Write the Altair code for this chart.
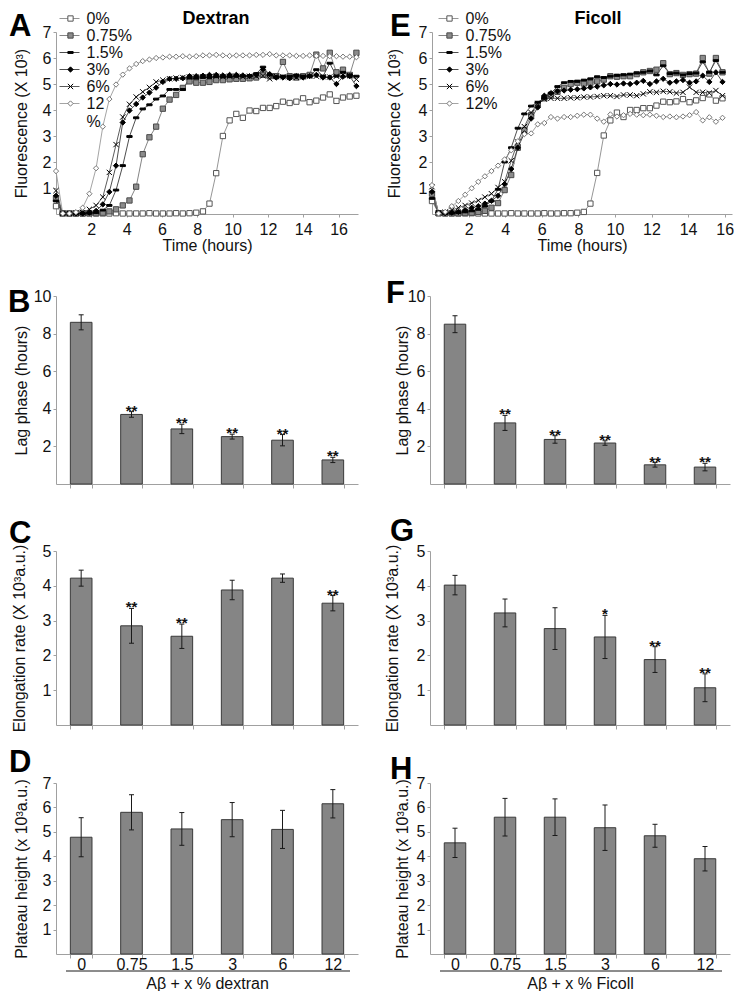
import altair as alt
import pandas as pd

FONT = "Liberation Sans"

series = ["0%", "0.75%", "1.5%", "3%", "6%", "12%"]
conc = ["0", "0.75", "1.5", "3", "6", "12"]

# ---------------- kinetic curves (fluorescence, x 10^3) ----------------
time_dextran = [0, 0.38, 0.76, 1.13, 1.51, 1.89, 2.27, 2.65, 3.02, 3.4,
                3.78, 4.16, 4.54, 4.91, 5.29, 5.67, 6.05, 6.43, 6.8, 7.18,
                7.56, 7.94, 8.32, 8.69, 9.07, 9.45, 9.83, 10.21, 10.58, 10.96,
                11.34, 11.72, 12.1, 12.47, 12.85, 13.23, 13.61, 13.99, 14.36, 14.74,
                15.12, 15.5, 15.88, 16.25, 16.63, 17.01]

dextran_0 = [0.3, 0.03, 0.02, 0.02, 0.02, 0.02, 0.02, 0.02, 0.02, 0.03,
             0.02, 0.02, 0.02, 0.02, 0.03, 0.02, 0.02, 0.02, 0.03, 0.02,
             0.03, 0.05, 0.1, 0.4, 1.57, 3.0, 3.6, 3.85, 3.7, 3.98,
             3.96, 4.08, 4.08, 4.15, 4.32, 4.27, 4.32, 4.45, 4.3, 4.36,
             4.48, 4.6, 4.35, 4.48, 4.52, 4.55]
dextran_075 = [0.6, 0.02, 0.02, 0.02, 0.02, 0.03, 0.03, 0.05, 0.1, 0.18,
               0.33, 0.52, 1.05, 2.3, 2.95, 3.36, 4.05, 4.4, 4.58, 4.85,
               5.1, 5.05, 5.05, 5.08, 5.15, 5.15, 5.18, 5.2, 5.2, 5.22,
               5.25, 5.35, 5.3, 5.3, 5.85, 5.3, 5.25, 5.3, 5.35, 6.13,
               5.6, 6.2, 5.45, 5.55, 5.35, 6.2]
dextran_15 = [0.5, 0.02, 0.02, 0.02, 0.02, 0.03, 0.05, 0.15, 0.33, 0.92,
              1.86, 2.98, 3.7, 4.04, 4.2, 4.42, 4.54, 4.79, 4.79, 4.79,
              5.23, 5.22, 5.25, 5.25, 5.28, 5.27, 5.28, 5.3, 5.3, 5.32,
              5.4, 5.65, 5.35, 5.28, 5.3, 5.3, 5.35, 5.3, 5.3, 5.55,
              5.3, 5.8, 5.3, 5.45, 5.35, 5.3]
dextran_3 = [0.7, 0.02, 0.02, 0.02, 0.02, 0.05, 0.12, 0.37, 0.85, 1.86,
             3.52, 3.98, 4.23, 4.48, 4.67, 4.86, 5.08, 5.2, 5.2, 5.22,
             5.3, 5.3, 5.32, 5.35, 5.35, 5.33, 5.35, 5.35, 5.33, 5.3,
             5.35, 5.55, 5.38, 5.25, 5.25, 5.22, 5.3, 5.25, 5.3, 5.35,
             5.25, 5.25, 5.0, 5.28, 5.3, 4.92]
dextran_6 = [0.9, 0.02, 0.02, 0.03, 0.05, 0.18, 0.33, 0.65, 1.6, 2.67,
             3.73, 4.22, 4.5, 4.7, 4.87, 5.08, 5.15, 5.2, 5.23, 5.25,
             5.27, 5.27, 5.28, 5.28, 5.3, 5.28, 5.3, 5.3, 5.28, 5.3,
             5.3, 5.32, 5.2, 5.3, 5.28, 5.25, 5.25, 5.28, 5.3, 5.3,
             5.28, 5.27, 5.3, 5.35, 5.32, 5.18]
dextran_12 = [1.65, 0.02, 0.02, 0.07, 0.24, 0.78, 1.76, 3.36, 4.42, 4.98,
              5.36, 5.6, 5.77, 5.88, 5.94, 6.0, 6.02, 6.05, 6.05, 6.07,
              6.05, 6.07, 6.1, 6.1, 6.12, 6.1, 6.08, 6.1, 6.1, 6.1,
              6.12, 6.12, 6.15, 6.1, 6.1, 6.1, 6.08, 6.08, 6.1, 6.08,
              6.08, 6.07, 6.07, 6.05, 6.05, 6.03]

time_ficoll = [0, 0.36, 0.72, 1.08, 1.44, 1.81, 2.17, 2.53, 2.89, 3.25,
               3.61, 3.97, 4.33, 4.69, 5.05, 5.42, 5.78, 6.14, 6.5, 6.86,
               7.22, 7.58, 7.94, 8.3, 8.66, 9.03, 9.39, 9.75, 10.11, 10.47,
               10.83, 11.19, 11.55, 11.91, 12.27, 12.64, 13.0, 13.36, 13.72, 14.08,
               14.44, 14.8, 15.16, 15.52, 15.88]

ficoll_0 = [0.5, 0.03, 0.02, 0.02, 0.02, 0.02, 0.03, 0.02, 0.02, 0.02,
            0.02, 0.02, 0.03, 0.02, 0.02, 0.02, 0.02, 0.03, 0.02, 0.02,
            0.03, 0.03, 0.05, 0.08, 0.4, 1.58, 3.02, 3.6, 3.9, 3.73,
            4.0, 4.0, 4.07, 4.07, 4.17, 4.32, 4.3, 4.33, 4.42, 4.3,
            4.37, 4.46, 4.6, 4.36, 4.45]
ficoll_075 = [0.78, 0.03, 0.03, 0.03, 0.03, 0.05, 0.05, 0.08, 0.12, 0.24,
              0.42, 0.92, 1.5, 2.55, 3.23, 3.8, 4.2, 4.45, 4.55, 4.7,
              4.85, 5.0, 5.05, 5.02, 5.05, 5.1, 5.17, 5.3, 5.28, 5.3,
              5.3, 5.38, 5.45, 5.5, 5.55, 5.8, 5.38, 5.42, 5.35, 5.38,
              5.4, 6.0, 5.4, 6.0, 5.45]
ficoll_15 = [0.6, 0.05, 0.03, 0.03, 0.05, 0.08, 0.12, 0.18, 0.3, 0.5,
             0.95, 2.0, 2.55, 3.3, 3.85, 4.15, 4.3, 4.45, 4.65, 4.9,
             5.05, 5.1, 5.1, 5.15, 5.2, 5.28, 5.25, 5.3, 5.33, 5.35,
             5.38, 5.42, 5.45, 5.5, 5.35, 5.7, 5.4, 5.42, 5.35, 5.4,
             5.42, 5.85, 5.45, 5.9, 5.45]
ficoll_3 = [0.85, 0.05, 0.03, 0.05, 0.08, 0.15, 0.24, 0.3, 0.4, 0.51,
            0.7, 1.15, 1.73, 2.55, 3.1, 3.67, 4.1, 4.55, 4.65, 4.72,
            4.75, 4.78, 4.8, 4.83, 4.87, 4.9, 4.95, 5.0, 4.98, 5.02,
            5.0, 5.05, 5.12, 5.0, 5.1, 5.2, 5.05, 5.1, 5.15, 5.05,
            5.1, 5.32, 5.08, 5.45, 5.08]
ficoll_6 = [1.05, 0.05, 0.07, 0.15, 0.24, 0.33, 0.42, 0.52, 0.65, 0.78,
            1.02, 1.24, 2.05, 2.77, 3.36, 3.9, 4.25, 4.42, 4.45, 4.45,
            4.45, 4.47, 4.47, 4.5, 4.5, 4.52, 4.55, 4.55, 4.52, 4.58,
            4.58, 4.55, 4.62, 4.7, 4.68, 4.72, 4.7, 4.65, 4.68, 4.88,
            4.68, 4.68, 4.65, 4.75, 4.55]
ficoll_12 = [1.11, 0.02, 0.08, 0.3, 0.5, 0.74, 0.99, 1.24, 1.45, 1.65,
             1.86, 2.1, 2.45, 2.8, 3.07, 3.1, 3.45, 3.5, 3.73, 3.67,
             3.73, 3.73, 3.78, 3.82, 3.82, 3.67, 3.55, 3.83, 3.75, 3.8,
             3.85, 3.82, 3.8, 3.82, 3.78, 3.73, 3.75, 3.72, 3.75, 3.8,
             3.92, 3.6, 3.72, 3.55, 3.7]

time_ticks = [2, 4, 6, 8, 10, 12, 14, 16]

# ---------------- bar panels ----------------
lag_dextran = [8.6, 3.7, 2.93, 2.52, 2.33, 1.28]
lag_dextran_err = [0.4, 0.15, 0.25, 0.13, 0.3, 0.14]
lag_dextran_sig = ["", "**", "**", "**", "**", "**"]
lag_ficoll = [8.5, 3.25, 2.37, 2.18, 1.02, 0.9]
lag_ficoll_err = [0.45, 0.4, 0.2, 0.12, 0.12, 0.2]
lag_ficoll_sig = ["", "**", "**", "**", "**", "**"]

elong_dextran = [4.22, 2.85, 2.55, 3.88, 4.22, 3.5]
elong_dextran_err = [0.23, 0.5, 0.35, 0.28, 0.12, 0.22]
elong_dextran_sig = ["", "**", "**", "", "", "**"]
elong_ficoll = [4.02, 3.22, 2.77, 2.53, 1.88, 1.07]
elong_ficoll_err = [0.28, 0.4, 0.6, 0.62, 0.37, 0.4]
elong_ficoll_sig = ["", "", "", "*", "**", "**"]

plateau_dextran = [4.78, 5.8, 5.12, 5.5, 5.1, 6.15]
plateau_dextran_err = [0.8, 0.72, 0.67, 0.7, 0.78, 0.58]
plateau_dextran_sig = ["", "", "", "", "", ""]
plateau_ficoll = [4.55, 5.6, 5.6, 5.17, 4.84, 3.9]
plateau_ficoll_err = [0.6, 0.77, 0.75, 0.93, 0.47, 0.5]
plateau_ficoll_sig = ["", "", "", "", "", ""]

# ---------------- styles ----------------
line_colors = ["#8a8a8a", "#777777", "#3a3a3a", "#3a3a3a", "#4a4a4a", "#9a9a9a"]
point_shapes = ["square", "square", "M-1,-0.35H1V0.35H-1Z", "diamond",
                "M-1,-1L1,1M-1,1L1,-1", "diamond"]
point_fills = ["white", "#8c8c8c", "black", "black", "transparent", "white"]
point_strokes = ["#555555", "#4a4a4a", "black", "black", "black", "#777777"]

LW, RW = 302, 300
H1, H2, H3, H4 = 182, 188, 174, 171


def text_layer(txt, x, y, size, weight="bold", align="left"):
    return alt.Chart(pd.DataFrame({"label": [txt]})).mark_text(
        align=align, baseline="alphabetic", fontSize=size, fontWeight=weight,
        font=FONT, color="black"
    ).encode(x=alt.value(x), y=alt.value(y), text="label:N")


def frame_layer(w, h, top, bottom):
    # invisible spacer fixing the panel's layout extent
    return alt.Chart(pd.DataFrame({"a": [0]})).mark_rule(opacity=0).encode(
        x=alt.value(-48), x2=alt.value(w + 2),
        y=alt.value(-top), y2=alt.value(h + bottom))


def curve_panel(times, values, xmax, width, letter, letter_x, head, head_x,
                legend_x, two_line_12, title_x):
    rows = []
    for s, vals in zip(series, values):
        for t, v in zip(times, vals):
            rows.append({"t": t, "v": v, "line_key": s + " ", "Series": s})
    df = pd.DataFrame(rows)
    line_keys = [s + " " for s in series]

    x = alt.X("t:Q", scale=alt.Scale(domain=[0, xmax], nice=False, zero=True),
              axis=alt.Axis(values=time_ticks, title="Time (hours)", tickSize=3,
                            labelPadding=4, titlePadding=0))
    y = alt.Y("v:Q", scale=alt.Scale(domain=[0, 7], nice=False),
              axis=alt.Axis(values=[1, 2, 3, 4, 5, 6, 7], title="Fluorescence (X 10³)",
                            titleX=title_x, titleBaseline="alphabetic",
                            tickSize=3, labelPadding=2))
    label_expr = ("datum.label == '12%' ? ['12', '%'] : datum.label"
                  if two_line_12 else "datum.label")

    # line segments drawn behind the markers in the legend (labels left empty)
    line_legend = alt.Legend(title=None, orient="none", legendX=legend_x - 4.5,
                             legendY=-21.5, symbolType="M-2.5,0H2.5", symbolSize=64,
                             symbolStrokeWidth=0.9, labelFontSize=16,
                             labelFont=FONT, rowPadding=1, padding=0,
                             labelExpr="''")
    pt_legend = alt.Legend(title=None, orient="none", legendX=legend_x - 3.5,
                           legendY=-21.5, symbolSize=28, symbolStrokeWidth=1,
                           labelFontSize=16, labelFont=FONT, labelColor="#111",
                           labelFontWeight="normal",
                           rowPadding=1, padding=0, labelOffset=8,
                           labelExpr=label_expr)

    base = alt.Chart(df)
    lines = base.mark_line(strokeWidth=0.9).encode(
        x=x, y=y,
        color=alt.Color("line_key:N",
                        scale=alt.Scale(domain=line_keys, range=line_colors),
                        legend=line_legend))
    points = base.mark_point(size=28, opacity=1, strokeWidth=1).encode(
        x=x, y=y,
        shape=alt.Shape("Series:N",
                        scale=alt.Scale(domain=series, range=point_shapes),
                        legend=pt_legend),
        fill=alt.Fill("Series:N",
                      scale=alt.Scale(domain=series, range=point_fills),
                      legend=pt_legend),
        stroke=alt.Stroke("Series:N",
                          scale=alt.Scale(domain=series, range=point_strokes),
                          legend=pt_legend))
    return alt.layer(
        lines, points,
        text_layer(letter, letter_x, 4, 31),
        text_layer(head, head_x, -8, 18, align="center"),
        frame_layer(width, H1, 24, 42),
    ).properties(width=width, height=H1)


def bar_panel(vals, errs, sig, ytitle, ymax, yvals, width, height, letter,
              letter_x, letter_y, title_x, top_ext, bottom_ext, xtitle=None):
    df = pd.DataFrame({
        "conc": conc, "v": vals,
        "lo": [v - e for v, e in zip(vals, errs)],
        "hi": [v + e for v, e in zip(vals, errs)],
        "sig": sig,
    })
    show = xtitle is not None
    xaxis = alt.Axis(title=xtitle if show else None, labels=show, labelAngle=0,
                     tickBand="extent", tickSize=4, labelPadding=-2,
                     titlePadding=3)
    x = alt.X("conc:N", sort=conc,
              scale=alt.Scale(paddingInner=0.57, paddingOuter=0.285), axis=xaxis)
    yaxis = alt.Axis(values=yvals, title=ytitle, titleX=title_x,
                     titleBaseline="alphabetic", tickSize=3, labelPadding=2)
    yscale = alt.Scale(domain=[0, ymax], nice=False)
    base = alt.Chart(df)
    bars = base.mark_bar(color="#858585", stroke="#3a3a3a", strokeWidth=1).encode(
        x=x, y=alt.Y("v:Q", scale=yscale, axis=yaxis))
    rule = base.mark_rule(color="#1a1a1a", strokeWidth=1).encode(
        x=x, y=alt.Y("lo:Q", scale=yscale, axis=yaxis), y2="hi:Q")
    cap_hi = base.mark_tick(color="#1a1a1a", thickness=1, size=5, opacity=1).encode(
        x=x, y=alt.Y("hi:Q", scale=yscale, axis=yaxis))
    cap_lo = base.mark_tick(color="#1a1a1a", thickness=1, size=5, opacity=1).encode(
        x=x, y=alt.Y("lo:Q", scale=yscale, axis=yaxis))
    stars = base.mark_text(baseline="alphabetic", dy=4, fontSize=15,
                           fontWeight="bold", font=FONT, color="#111").encode(
        x=x, y=alt.Y("hi:Q", scale=yscale, axis=yaxis), text="sig:N")
    layers = [bars, rule, cap_hi, cap_lo, stars,
              text_layer(letter, letter_x, letter_y, 31),
              frame_layer(width, height, top_ext, bottom_ext)]
    if show:
        underline = alt.Chart(pd.DataFrame({"a": [0]})).mark_rule(
            color="#1a1a1a", strokeWidth=1
        ).encode(x=alt.value(10), x2=alt.value(width - 8), y=alt.value(height + 17))
        layers.append(underline)
    return alt.layer(*layers).properties(width=width, height=height)


A = curve_panel(time_dextran,
                [dextran_0, dextran_075, dextran_15, dextran_3, dextran_6, dextran_12],
                17.1, LW, "A", -47, "Dextran", 160, 10, True, -30)
E = curve_panel(time_ficoll,
                [ficoll_0, ficoll_075, ficoll_15, ficoll_3, ficoll_6, ficoll_12],
                16.4, RW, "E", -42, "Ficoll", 166, 13, False, -33)

B = bar_panel(lag_dextran, lag_dextran_err, lag_dextran_sig, "Lag phase (hours)",
              10, [2, 4, 6, 8, 10], LW, H2, "B", -48, 16, -30, 40, 32)
F = bar_panel(lag_ficoll, lag_ficoll_err, lag_ficoll_sig, "Lag phase (hours)",
              10, [2, 4, 6, 8, 10], RW, H2, "F", -44, 7, -23, 40, 32)

C = bar_panel(elong_dextran, elong_dextran_err, elong_dextran_sig,
              "Elongation rate (X 10³a.u.)", 5, [1, 2, 3, 4, 5], LW, H3, "C", -47, -8, -32,
              32, 20)
G = bar_panel(elong_ficoll, elong_ficoll_err, elong_ficoll_sig,
              "Elongation rate (X 10³a.u.)", 5, [1, 2, 3, 4, 5], RW, H3, "G", -40, -10, -33,
              32, 20)

D = bar_panel(plateau_dextran, plateau_dextran_err, plateau_dextran_sig,
              "Plateau height (x 10³a.u.)", 7, [1, 2, 3, 4, 5, 6, 7], LW, H4, "D", -47, -11, -30,
              38, 0, xtitle="Aβ + x % dextran")
Hh = bar_panel(plateau_ficoll, plateau_ficoll_err, plateau_ficoll_sig,
               "Plateau height (x 10³a.u.)", 7, [1, 2, 3, 4, 5, 6, 7], RW, H4, "H", -40, -4, -23,
               38, 0, xtitle="Aβ + x % Ficoll")

GAP_X = 22


def row(left, right):
    return alt.hconcat(left, right, spacing=GAP_X).resolve_scale(
        x="independent", y="independent", color="independent",
        shape="independent", fill="independent", stroke="independent"
    ).resolve_legend(color="independent", shape="independent",
                     fill="independent", stroke="independent")


chart = alt.vconcat(row(A, E), row(B, F), row(C, G), row(D, Hh), spacing=0).properties(
    padding=0
).configure_view(stroke=None).configure_axis(
    grid=False, labelFont=FONT, titleFont=FONT, labelFontSize=16, titleFontSize=16,
    titleFontWeight="normal", labelColor="#111", titleColor="#111",
    domainColor="#a0a0a0", tickColor="#a0a0a0", domainWidth=1
)

chart.save("out.html", embed_options={"renderer": "svg", "actions": False})
